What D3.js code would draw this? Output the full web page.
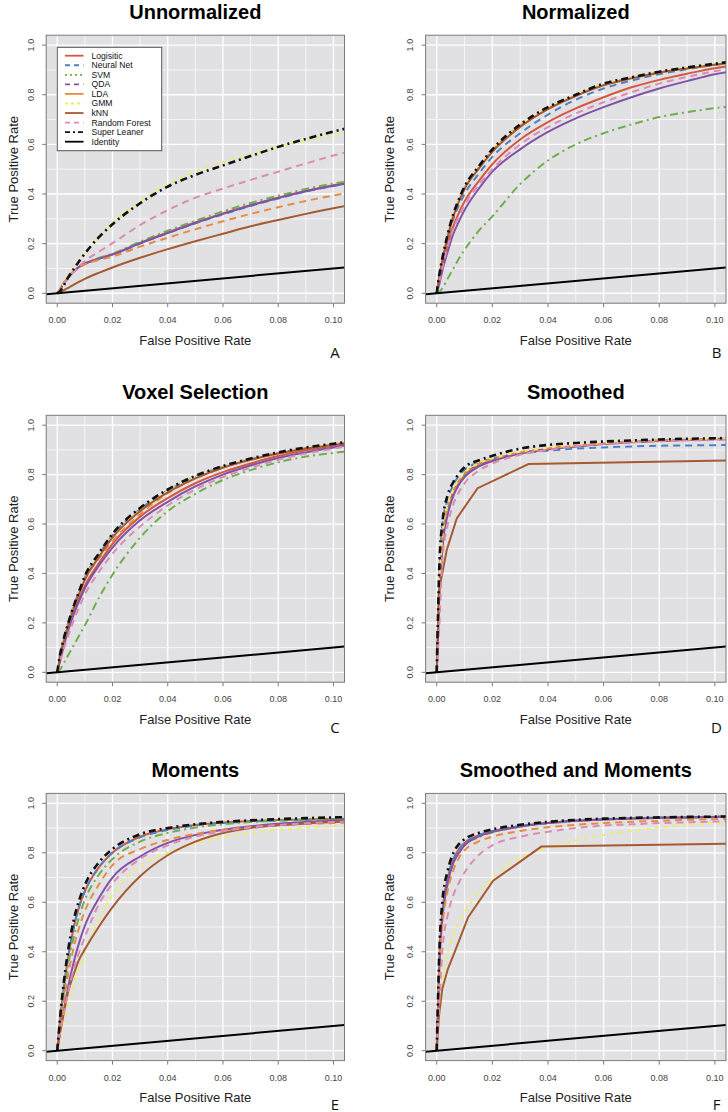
<!DOCTYPE html>
<html>
<head>
<meta charset="utf-8">
<script src="https://cdn.jsdelivr.net/npm/d3@7"></script>
<style>
  body { margin: 0; background: #fff; }
  svg { display: block; font-family: "Liberation Sans", Arial, Helvetica, sans-serif; }
</style>
</head>
<body>
<svg id="chart" width="728" height="1112"></svg>
<script>
// shared false positive rate grid for all smooth curves
const fpr = [0, .001, .002, .004, .006, .008, .01, .015, .02, .03, .04, .05, .06, .07, .08, .09, .1, .105];

const classifiers = ["Logisitic", "Neural Net", "SVM", "QDA", "LDA", "GMM", "kNN", "Random Forest", "Super Leaner"];
const xTicks = [0, 0.02, 0.04, 0.06, 0.08, 0.10];
const yTicks = [0, 0.2, 0.4, 0.6, 0.8, 1.0];

// rows follow the classifiers order
const tprUnnormalized = [
  [0, .015, .035, .065, .09, .108, .12, .14, .157, .203, .245, .285, .322, .355, .385, .412, .435, .445],
  [0, .015, .033, .063, .088, .105, .118, .138, .155, .2, .242, .282, .318, .352, .382, .41, .432, .442],
  [0, .012, .03, .062, .088, .108, .12, .142, .16, .208, .252, .292, .33, .364, .393, .42, .442, .45],
  [0, .015, .034, .064, .089, .106, .119, .139, .156, .202, .243, .283, .32, .354, .384, .411, .433, .443],
  [0, .015, .034, .064, .088, .105, .117, .134, .148, .188, .224, .258, .29, .32, .347, .372, .394, .404],
  [0, .012, .032, .072, .105, .135, .163, .228, .283, .37, .44, .49, .53, .56, .59, .615, .638, .648],
  [0, .005, .01, .022, .035, .047, .058, .082, .104, .143, .178, .21, .24, .27, .295, .32, .343, .353],
  [0, .015, .035, .065, .088, .11, .13, .167, .202, .275, .335, .385, .422, .457, .49, .523, .555, .57],
  [0, .008, .025, .065, .098, .13, .16, .225, .278, .363, .43, .477, .515, .553, .59, .622, .652, .665]
];

const tprNormalized = [
  [0, .06, .11, .2, .27, .325, .37, .45, .52, .62, .69, .745, .79, .83, .86, .885, .907, .915],
  [0, .07, .13, .22, .3, .355, .4, .48, .55, .645, .72, .78, .825, .857, .883, .903, .92, .927],
  [0, .005, .02, .06, .1, .14, .175, .25, .31, .44, .535, .6, .645, .68, .71, .73, .746, .752],
  [0, .04, .09, .17, .24, .29, .335, .42, .49, .58, .65, .705, .75, .79, .825, .855, .883, .893],
  [0, .075, .135, .235, .315, .375, .425, .505, .575, .675, .745, .797, .84, .868, .89, .907, .922, .929],
  [0, .075, .135, .235, .315, .375, .425, .505, .578, .678, .748, .798, .842, .868, .891, .908, .923, .93],
  [0, .07, .13, .23, .31, .37, .42, .5, .57, .67, .742, .795, .838, .866, .889, .906, .921, .928],
  [0, .05, .1, .19, .26, .31, .355, .435, .5, .6, .67, .725, .77, .81, .845, .872, .895, .905],
  [0, .08, .14, .24, .32, .38, .43, .51, .58, .68, .75, .8, .845, .87, .893, .91, .925, .932]
];

const tprVoxel = [
  [0, .05, .1, .18, .245, .3, .35, .44, .52, .63, .705, .765, .81, .845, .875, .898, .917, .925],
  [0, .07, .12, .2, .27, .33, .385, .475, .555, .66, .735, .79, .832, .862, .887, .907, .922, .93],
  [0, .01, .03, .07, .11, .15, .19, .3, .395, .545, .652, .722, .778, .818, .85, .873, .888, .895],
  [0, .045, .09, .17, .235, .29, .34, .43, .505, .615, .69, .752, .8, .837, .867, .89, .91, .92],
  [0, .06, .11, .19, .26, .32, .375, .46, .53, .64, .725, .785, .83, .86, .886, .906, .921, .929],
  [0, .065, .115, .195, .265, .325, .38, .47, .55, .657, .733, .788, .83, .861, .886, .906, .921, .929],
  [0, .06, .11, .19, .26, .32, .375, .465, .545, .652, .728, .785, .828, .86, .885, .905, .92, .928],
  [0, .04, .08, .15, .21, .265, .315, .405, .48, .59, .675, .74, .79, .828, .86, .885, .905, .915],
  [0, .07, .12, .2, .27, .33, .39, .48, .56, .665, .74, .795, .835, .865, .89, .91, .925, .932]
];

const tprSmoothed = [
  [0, .35, .52, .66, .73, .77, .8, .84, .86, .888, .904, .915, .925, .932, .937, .941, .944, .945],
  [0, .4, .6, .7, .76, .795, .82, .848, .865, .885, .897, .905, .91, .914, .917, .918, .919, .92],
  [0, .33, .5, .65, .72, .765, .795, .835, .857, .886, .903, .915, .925, .932, .937, .941, .944, .945],
  [0, .33, .5, .64, .715, .76, .79, .832, .855, .885, .902, .914, .924, .931, .936, .94, .943, .944],
  [0, .35, .53, .67, .735, .775, .805, .843, .863, .89, .906, .917, .926, .933, .938, .942, .945, .946],
  [0, .37, .55, .68, .74, .78, .808, .846, .866, .893, .909, .92, .928, .934, .939, .943, .946, .947],
  null,
  [0, .2, .45, .6, .68, .73, .765, .815, .845, .88, .9, .915, .925, .93, .935, .938, .94, .942],
  [0, .45, .6, .72, .77, .805, .83, .857, .876, .905, .92, .928, .934, .938, .942, .945, .947, .948]
];
const knnSmoothedFpr = [0, 0.0008, 0.0036, 0.0072, 0.0147, 0.033, 0.105];
const knnSmoothedTpr = [0, 0.33, 0.495, 0.623, 0.745, 0.843, 0.857];

const tprMoments = [
  [0, .12, .22, .38, .5, .585, .645, .74, .8, .865, .895, .912, .922, .928, .932, .935, .937, .938],
  [0, .12, .22, .38, .5, .585, .645, .74, .8, .862, .892, .91, .92, .926, .93, .933, .935, .936],
  [0, .11, .2, .35, .46, .545, .61, .71, .775, .845, .88, .902, .915, .924, .93, .934, .937, .939],
  [0, .07, .14, .26, .36, .44, .505, .615, .7, .785, .84, .872, .893, .907, .917, .924, .929, .931],
  [0, .09, .17, .31, .42, .5, .565, .67, .75, .815, .852, .876, .892, .904, .912, .917, .92, .922],
  [0, .05, .1, .19, .27, .34, .4, .53, .63, .745, .8, .838, .862, .88, .892, .901, .908, .911],
  [0, .07, .13, .24, .31, .37, .41, .5, .58, .705, .79, .845, .88, .9, .911, .918, .924, .926],
  [0, .07, .13, .24, .33, .4, .46, .59, .675, .775, .83, .865, .887, .902, .912, .919, .924, .926],
  [0, .13, .24, .41, .53, .61, .67, .76, .815, .875, .9, .915, .925, .931, .936, .94, .943, .944]
];

const tprSmoothedMoments = [
  [0, .38, .55, .7, .775, .815, .84, .87, .887, .907, .92, .929, .935, .939, .941, .943, .945, .946],
  [0, .38, .55, .7, .775, .815, .84, .87, .888, .908, .921, .93, .936, .94, .942, .944, .945, .946],
  [0, .36, .53, .68, .76, .8, .83, .862, .882, .905, .919, .928, .935, .939, .942, .944, .946, .947],
  [0, .36, .53, .68, .76, .8, .83, .865, .884, .906, .92, .929, .935, .939, .941, .943, .945, .946],
  [0, .35, .5, .65, .73, .78, .81, .845, .865, .888, .903, .913, .92, .925, .929, .933, .936, .937],
  [0, .15, .28, .4, .47, .52, .56, .64, .7, .78, .82, .85, .872, .888, .902, .912, .92, .925],
  null,
  [0, .2, .4, .55, .63, .68, .72, .79, .83, .865, .885, .9, .91, .915, .92, .923, .926, .927],
  [0, .42, .6, .73, .8, .835, .855, .88, .895, .913, .925, .933, .938, .941, .943, .945, .946, .947]
];
const knnSmMoFpr = [0, 0.0008, 0.002, 0.004, 0.0065, 0.0113, 0.0203, 0.0376, 0.105];
const knnSmMoTpr = [0, 0.14, 0.25, 0.33, 0.4, 0.54, 0.687, 0.825, 0.837];

// styles
const colors = ["#d5573f", "#4d80c4", "#6caf4b", "#8152a8", "#e88a45", "#eeee66", "#a65a32", "#dc8cb4", "#111111"];
const dashes = ["", "7,5", "8,4,2,4", "", "7,5", "4,5", "", "7,5", "7,4,2,4"];
const legendDashes = ["", "5,4", "2,3", "5,4", "", "3,3", "", "5,4", "5,3,2,3"];
const widths = [2, 2, 2, 2, 2, 2, 2, 2, 2.6];

const panels = [
  { title: "Unnormalized", letter: "A", tpr: tprUnnormalized, col: 0, row: 0, legend: true },
  { title: "Normalized", letter: "B", tpr: tprNormalized, col: 1, row: 0 },
  { title: "Voxel Selection", letter: "C", tpr: tprVoxel, col: 0, row: 1 },
  { title: "Smoothed", letter: "D", tpr: tprSmoothed, col: 1, row: 1, knn: [knnSmoothedFpr, knnSmoothedTpr] },
  { title: "Moments", letter: "E", tpr: tprMoments, col: 0, row: 2 },
  { title: "Smoothed and Moments", letter: "F", tpr: tprSmoothedMoments, col: 1, row: 2, knn: [knnSmMoFpr, knnSmMoTpr] }
];

const cols = [
  { left: 46.2, right: 344.5, yLab: 13.3, letterX: 335 },
  { left: 425.6, right: 726, yLab: 389, letterX: 716.5 }
];
const rows = [
  { top: 35.2, bottom: 303.2, letterY: 357.5 },
  { top: 415.3, bottom: 682.2, letterY: 733 },
  { top: 793.4, bottom: 1060.6, letterY: 1109.5 }
];

const svg = d3.select('#chart');

panels.forEach((p, pi) => {
  const c = cols[p.col], r = rows[p.row];
  const x = d3.scaleLinear().domain([-0.004, 0.104]).range([c.left, c.right]);
  const y = d3.scaleLinear().domain([-0.04, 1.04]).range([r.bottom, r.top]);
  const g = svg.append('g');

  g.append('rect')
    .attr('x', c.left).attr('y', r.top)
    .attr('width', c.right - c.left).attr('height', r.bottom - r.top)
    .attr('fill', '#e1e1e3');

  // grid
  const xGrid = d3.range(0, 11).map(i => i / 100);
  const yGrid = d3.range(0, 11).map(i => i / 10);
  g.selectAll('.gx').data(xGrid).enter().append('line')
    .attr('x1', d => x(d)).attr('x2', d => x(d))
    .attr('y1', r.top).attr('y2', r.bottom)
    .attr('stroke', '#fff')
    .attr('stroke-width', (d, i) => i % 2 === 0 ? 1.3 : 0.7);
  g.selectAll('.gy').data(yGrid).enter().append('line')
    .attr('y1', d => y(d)).attr('y2', d => y(d))
    .attr('x1', c.left).attr('x2', c.right)
    .attr('stroke', '#fff')
    .attr('stroke-width', (d, i) => i % 2 === 0 ? 1.3 : 0.7);

  // curves
  const clipId = 'clip' + pi;
  svg.append('clipPath').attr('id', clipId).append('rect')
    .attr('x', c.left).attr('y', r.top)
    .attr('width', c.right - c.left).attr('height', r.bottom - r.top);
  const lines = g.append('g').attr('clip-path', `url(#${clipId})`);

  const smooth = d3.line().x(d => x(d[0])).y(d => y(d[1])).curve(d3.curveMonotoneX);
  const straight = d3.line().x(d => x(d[0])).y(d => y(d[1]));

  classifiers.forEach((name, i) => {
    let pts, gen = smooth;
    if (p.tpr[i]) {
      pts = fpr.map((f, k) => [f, p.tpr[i][k]]);
    } else {
      // kNN has only a few distinct thresholds here: straight segments
      pts = p.knn[0].map((f, k) => [f, p.knn[1][k]]);
      gen = straight;
    }
    lines.append('path')
      .attr('d', gen(pts))
      .attr('fill', 'none')
      .attr('stroke', colors[i])
      .attr('stroke-width', widths[i])
      .attr('stroke-dasharray', dashes[i] || null);
  });

  // identity
  lines.append('path')
    .attr('d', straight([[-0.004, -0.004], [0.104, 0.104]]))
    .attr('stroke', '#000').attr('stroke-width', 2).attr('fill', 'none');

  // box
  g.append('rect')
    .attr('x', c.left).attr('y', r.top)
    .attr('width', c.right - c.left).attr('height', r.bottom - r.top)
    .attr('fill', 'none').attr('stroke', '#7a7a7a').attr('stroke-width', 1);

  // ticks
  g.selectAll('.tx').data(xTicks).enter().append('line')
    .attr('x1', d => x(d)).attr('x2', d => x(d))
    .attr('y1', r.bottom).attr('y2', r.bottom + 4)
    .attr('stroke', '#7a7a7a');
  g.selectAll('.ty').data(yTicks).enter().append('line')
    .attr('y1', d => y(d)).attr('y2', d => y(d))
    .attr('x1', c.left).attr('x2', c.left - 4)
    .attr('stroke', '#7a7a7a');

  g.selectAll('.lx').data(xTicks).enter().append('text')
    .attr('x', d => x(d)).attr('y', r.bottom + 20)
    .attr('text-anchor', 'middle')
    .attr('font-size', 9).attr('fill', '#444')
    .text(d => d3.format('.2f')(d));
  g.selectAll('.ly').data(yTicks).enter().append('text')
    .attr('transform', d => `translate(${c.left - 12.5},${y(d)}) rotate(-90)`)
    .attr('text-anchor', 'middle')
    .attr('font-size', 9).attr('fill', '#444')
    .text(d => d3.format('.1f')(d));

  // titles
  g.append('text')
    .attr('x', (c.left + c.right) / 2).attr('y', r.top - 16.5)
    .attr('text-anchor', 'middle')
    .attr('font-size', 20).attr('font-weight', 'bold').attr('fill', '#000')
    .text(p.title);
  g.append('text')
    .attr('x', (c.left + c.right) / 2).attr('y', r.bottom + 41.5)
    .attr('text-anchor', 'middle')
    .attr('font-size', 13).attr('fill', '#222')
    .text('False Positive Rate');
  g.append('text')
    .attr('transform', `translate(${c.yLab + 4.5},${(r.top + r.bottom) / 2}) rotate(-90)`)
    .attr('text-anchor', 'middle')
    .attr('font-size', 13).attr('fill', '#222')
    .text('True Positive Rate');
  g.append('text')
    .attr('x', c.letterX).attr('y', r.letterY)
    .attr('text-anchor', 'middle')
    .attr('font-family', '"Open Sans", sans-serif')
    .attr('font-size', 15).attr('fill', '#111')
    .text(p.letter);

  // legend
  if (p.legend) {
    const lg = g.append('g');
    lg.append('rect')
      .attr('x', 57.3).attr('y', 47.3).attr('width', 104.4).attr('height', 103.4)
      .attr('fill', '#fff').attr('stroke', '#555').attr('stroke-width', 1);
    const items = classifiers.map((n, i) => ({ name: n, color: colors[i], dash: legendDashes[i] }))
      .concat([{ name: 'Identity', color: '#000', dash: '' }]);
    const ly = d3.scalePoint().domain(items.map(d => d.name)).range([55.7, 141.7]);
    items.forEach(d => {
      lg.append('line')
        .attr('x1', 65).attr('x2', 83.5)
        .attr('y1', ly(d.name)).attr('y2', ly(d.name))
        .attr('stroke', d.color).attr('stroke-width', 1.8)
        .attr('stroke-dasharray', d.dash || null);
      lg.append('text')
        .attr('x', 91.5).attr('y', ly(d.name) + 3)
        .attr('font-size', 8.6).attr('fill', '#111')
        .text(d.name);
    });
  }
});
</script>
</body>
</html>
